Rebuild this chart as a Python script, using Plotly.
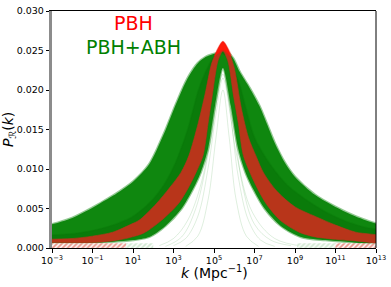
import numpy as np
import plotly.graph_objects as go

# ---------------- data (log10 k, P) ----------------
# outer (upper) envelope of the green PBH+ABH ensemble
g_out_logk = [-3.4, -3, -2, -1, -0.66, 0, 1, 1.8, 2.5, 3.15, 3.7, 4.2, 4.6, 4.9, 5.2, 5.44,
              5.7, 5.95, 6.27, 6.75, 7.24, 7.6, 8.0, 8.5, 9, 10, 11, 12, 13, 13.4]
g_out_P = [0.0028, 0.0030, 0.0038, 0.0051, 0.0056, 0.0066, 0.0084, 0.0106, 0.0143, 0.0184, 0.0215, 0.0234, 0.0242, 0.0245, 0.0247, 0.0250,
           0.0247, 0.0240, 0.0223, 0.0203, 0.0180, 0.0158, 0.0133, 0.0108, 0.0090, 0.0067, 0.0052, 0.0040, 0.0031, 0.0029]
# inner edge of the dense green region (white inside)
g_in_logk = [-3.4, 0, 1.0, 1.8, 2.6, 3.4, 3.95, 4.35, 4.7, 5.05, 5.44, 5.83, 6.2, 6.55, 6.95, 7.5, 8.3, 9.3, 10.5, 11.5, 13.4]
g_in_P = [0.0007, 0.0008, 0.0010, 0.0014, 0.0028, 0.0050, 0.0074, 0.0096, 0.0125, 0.0180, 0.0228, 0.0180, 0.0125, 0.0096, 0.0074, 0.0050, 0.0028, 0.0014, 0.0010, 0.0008, 0.0007]
# darker green strip just outside the red band
d_out_logk = [-3.4, -2, -1, 0, 1, 2, 2.6, 3.1, 3.7, 4.3, 4.9, 5.3, 5.7, 6.2, 7.0, 7.8, 8.6, 9.5, 10.5, 11.5, 12.5, 13.4]
d_out_P = [0.0016, 0.0018, 0.0022, 0.0029, 0.0040, 0.0062, 0.0083, 0.0108, 0.0150, 0.0205, 0.0238, 0.0247, 0.0240, 0.0212, 0.0140, 0.0105, 0.0080, 0.0062, 0.0046, 0.0034, 0.0026, 0.0021]
# red PBH ensemble: outer and inner edges
r_out_logk = [-3.4, -2, -1, 0, 0.9, 1.3, 2.15, 2.8, 3.38, 3.76, 4.22, 4.56, 4.9, 5.2, 5.44, 5.68, 6.0, 6.35,
              6.7, 7.1, 7.45, 8.1, 9.0, 10.0, 11.0, 12.0, 13.4]
r_out_P = [0.0011, 0.0012, 0.0015, 0.0020, 0.0030, 0.0035, 0.0056, 0.0076, 0.0096, 0.0117, 0.0158, 0.0195, 0.0235, 0.0252, 0.0261, 0.0252, 0.0228, 0.0177,
           0.0140, 0.0115, 0.0095, 0.0072, 0.0052, 0.0040, 0.0029, 0.0020, 0.0014]
r_in_logk = [-3.4, -1, 0, 0.8, 1.54, 2.41, 3.24, 3.73, 4.12, 4.46, 4.71, 4.9, 5.2, 5.44, 5.68, 5.98, 6.2, 6.45,
             6.8, 7.15, 7.6, 8.27, 9.2, 10.0, 11.0, 12.0, 13.4]
r_in_P = [0.0007, 0.0007, 0.0009, 0.0013, 0.0019, 0.0035, 0.0056, 0.0076, 0.0096, 0.0117, 0.0158, 0.0190, 0.0237, 0.0249, 0.0237, 0.0190, 0.0158, 0.0117,
          0.0094, 0.0075, 0.0055, 0.0035, 0.0020, 0.0014, 0.0011, 0.0009, 0.0007]
# bright red cap on top of the PBH peak
cap_logk = [5.05, 5.2, 5.44, 5.68, 5.83, 5.7, 5.44, 5.18]
cap_P = [0.0243, 0.0252, 0.0261, 0.0252, 0.0243, 0.0246, 0.0251, 0.0246]
# a few faint narrow PBH+ABH curves
faint_logk = [
    [2.3, 3.0, 3.7, 4.4, 5.0, 5.44, 5.9, 6.4, 7.0, 7.8, 8.8],
    [3.0, 3.6, 4.2, 4.7, 5.1, 5.44, 5.8, 6.2, 6.7, 7.3, 8.0],
    [3.6, 4.2, 4.7, 5.1, 5.44, 5.75, 6.1, 6.6, 7.2],
    [2.6, 3.4, 4.1, 4.8, 5.44, 6.1, 6.9, 8.0, 9.5],
]
faint_P = [
    [0.0003, 0.0012, 0.0035, 0.0085, 0.0170, 0.0225, 0.0170, 0.0080, 0.0030, 0.0010, 0.0003],
    [0.0003, 0.0012, 0.0040, 0.0100, 0.0170, 0.0215, 0.0170, 0.0090, 0.0035, 0.0010, 0.0002],
    [0.0002, 0.0015, 0.0060, 0.0140, 0.0200, 0.0140, 0.0060, 0.0015, 0.0002],
    [0.0002, 0.0014, 0.0050, 0.0130, 0.0220, 0.0120, 0.0045, 0.0012, 0.0002],
]
# hatched strips near P = 0 (log10 k extents, P extent)
hatch_red_left = [-3.4, 0.66]
hatch_green_left = [0.66, 2.0]
hatch_green_right = [9.1, 11.0]
hatch_red_right = [11.0, 13.4]
hatch_P = [0.0, 0.0006]

x_tick_exp = [-3, -1, 1, 3, 5, 7, 9, 11, 13]
y_ticks = [0.000, 0.005, 0.010, 0.015, 0.020, 0.025, 0.030]

# ---------------- figure ----------------
GREEN = "#0f870f"
DARK_GREEN = "#0a7b0a"
RED_BROWN = "#b8351a"
FONT = "DejaVu Sans"


def poly(ux, uy, lx, ly):
    xs = list(ux) + list(lx)[::-1]
    ys = list(uy) + list(ly)[::-1]
    return 10 ** np.array(xs, dtype=float), ys


fig = go.Figure()


def add_poly(xs, ys, fill, lcol, lw, **kw):
    fig.add_trace(go.Scatter(x=xs, y=ys, mode="lines", fill="toself", fillcolor=fill,
                             line=dict(color=lcol, width=lw, shape="spline", smoothing=0.8),
                             hoverinfo="skip", showlegend=False, **kw))


# faint lines (under everything)
for lk, pv in zip(faint_logk, faint_P):
    fig.add_trace(go.Scatter(x=10 ** np.array(lk, dtype=float), y=pv, mode="lines",
                             line=dict(color="rgba(0,128,0,0.13)", width=1, shape="spline"),
                             hoverinfo="skip", showlegend=False))

# green band
xs, ys = poly(g_out_logk, g_out_P, g_in_logk, g_in_P)
add_poly(xs, ys, GREEN, "rgba(15,135,15,0.45)", 2.5)
# darker green strip
xs, ys = poly(d_out_logk, d_out_P, r_in_logk, r_in_P)
add_poly(xs, ys, DARK_GREEN, "rgba(10,123,10,0.4)", 1.5)
# red band
xs, ys = poly(r_out_logk, r_out_P, r_in_logk, r_in_P)
add_poly(xs, ys, RED_BROWN, "rgba(184,53,26,0.6)", 1)
# red cap
add_poly(10 ** np.array(cap_logk), cap_P, "#ff1a0a", "rgba(255,20,10,0.5)", 2)

# hatched strips at the bottom
for (a, b), col in [(hatch_red_left, "#d8301a"), (hatch_green_left, "rgba(0,128,0,0.35)"),
                    (hatch_green_right, "rgba(0,128,0,0.35)"), (hatch_red_right, "#d8301a")]:
    fig.add_trace(go.Scatter(x=[10 ** a, 10 ** b, 10 ** b, 10 ** a], y=[hatch_P[0], hatch_P[0], hatch_P[1], hatch_P[1]],
                             mode="lines", fill="toself", fillcolor="white", line=dict(width=0),
                             fillpattern=dict(shape="/", fgcolor=col, bgcolor="white", size=3.5, solidity=0.55),
                             hoverinfo="skip", showlegend=False))

fig.update_layout(
    width=391, height=287,
    margin=dict(l=52, r=11, t=5, b=39),
    paper_bgcolor="white", plot_bgcolor="white",
    font=dict(family=FONT, size=9.5, color="black"),
    xaxis=dict(type="log", range=[-3, 13], showgrid=False, zeroline=False,
               tickvals=[10.0 ** e for e in x_tick_exp],
               ticktext=["10<sup>%s</sup>" % (str(e).replace("-", "\u2212")) for e in x_tick_exp],
               ticks="outside", ticklen=3.5, tickwidth=1, tickcolor="black",
               showline=True, linecolor="black", linewidth=1, mirror=True,
               tickfont=dict(family=FONT, size=9.5)),
    yaxis=dict(range=[0, 0.030], showgrid=False, zeroline=False,
               tickvals=y_ticks, ticktext=["%.3f" % v for v in y_ticks],
               ticks="outside", ticklen=3.5, tickwidth=1, tickcolor="black",
               showline=True, linecolor="#8c8c8c", linewidth=2.5,
               tickfont=dict(family=FONT, size=9.5)),
    shapes=[dict(type="line", xref="paper", yref="paper", x0=1, x1=1, y0=0, y1=1,
                 line=dict(color="black", width=1))],
    annotations=[
        dict(text="PBH", xref="paper", yref="paper", x=(134 - 52) / 328, y=(248 - 17) / 243,
             showarrow=False, font=dict(family=FONT, size=19, color="#ff0000"), xanchor="center", yanchor="middle"),
        dict(text="PBH+ABH", xref="paper", yref="paper", x=(134 - 52) / 328, y=(248 - 42) / 243,
             showarrow=False, font=dict(family=FONT, size=19, color="#008000"), xanchor="center", yanchor="middle"),
        dict(text="<i>k</i> (Mpc<sup>\u22121</sup>)", xref="paper", yref="paper", x=0.5, y=(248 - 273) / 243,
             showarrow=False, font=dict(family=FONT, size=14), xanchor="center", yanchor="middle"),
        dict(text="<i>P</i><sub><i>\u211b</i></sub>(<i>k</i>)", xref="paper", yref="paper",
             x=(8 - 52) / 328, y=0.5, textangle=-90,
             showarrow=False, font=dict(family=FONT, size=14), xanchor="center", yanchor="middle"),
    ],
)

fig.write_html("out.html", config={"displayModeBar": False},
               post_script="document.body.style.margin='0';document.body.style.overflow='hidden';")
